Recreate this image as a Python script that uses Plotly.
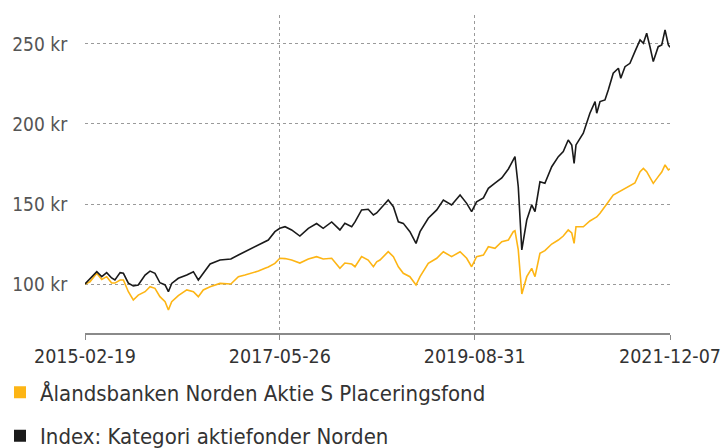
import plotly.graph_objects as go

dates = [
    "2015-02-19", "2015-03-12", "2015-04-10", "2015-05-01", "2015-05-22", "2015-06-12", "2015-06-26",
    "2015-07-18", "2015-08-01", "2015-08-22", "2015-09-12", "2015-10-03", "2015-11-01", "2015-11-22",
    "2015-12-13", "2016-01-03", "2016-01-25", "2016-02-08", "2016-02-22", "2016-03-21", "2016-04-26",
    "2016-05-24", "2016-06-14", "2016-07-05", "2016-08-03", "2016-09-14", "2016-10-30", "2016-12-01",
    "2016-12-29", "2017-01-27", "2017-02-24", "2017-03-24", "2017-04-07", "2017-05-05", "2017-05-26",
    "2017-06-17", "2017-07-15", "2017-08-19", "2017-09-24", "2017-10-29", "2017-11-26", "2018-01-01",
    "2018-02-05", "2018-02-26", "2018-03-27", "2018-04-10", "2018-05-08", "2018-06-05", "2018-06-27",
    "2018-07-11", "2018-07-25", "2018-08-29", "2018-09-20", "2018-10-11", "2018-11-01", "2018-11-29",
    "2018-12-25", "2019-01-11", "2019-02-15", "2019-03-23", "2019-04-20", "2019-05-25", "2019-06-30",
    "2019-07-28", "2019-08-18", "2019-09-08", "2019-10-07", "2019-10-28", "2019-11-25", "2019-12-24",
    "2020-01-21", "2020-02-11", "2020-02-18", "2020-03-03", "2020-03-18", "2020-04-08", "2020-04-29",
    "2020-05-13", "2020-06-03", "2020-06-24", "2020-07-23", "2020-08-20", "2020-09-10", "2020-10-01",
    "2020-10-16", "2020-10-26", "2020-11-03", "2020-12-04", "2021-01-01", "2021-01-23", "2021-01-30",
    "2021-02-13", "2021-03-06", "2021-03-20", "2021-04-10", "2021-05-02", "2021-05-12", "2021-05-30",
    "2021-06-20", "2021-07-11", "2021-08-02", "2021-08-16", "2021-08-30", "2021-09-13", "2021-09-27",
    "2021-10-18", "2021-11-02", "2021-11-16", "2021-11-30", "2021-12-07",
]

fund_values = [
    100.0, 101.4, 106.7, 102.9, 104.6, 100.6, 100.6,
    102.5, 102.5, 95.2, 90.0, 93.1, 95.2, 98.3,
    97.3, 92.1, 88.9, 83.8, 88.9, 92.8, 96.3,
    95.2, 92.1, 96.3, 98.3, 100.4, 100.0, 104.6,
    105.6, 106.7, 108.1, 109.8, 110.6, 112.9, 116.1,
    115.9, 115.0, 113.1, 115.6, 117.1, 115.6, 116.1,
    109.8, 113.1, 112.5, 110.8, 117.1, 115.0, 110.8,
    113.9, 115.0, 120.2, 117.1, 110.8, 106.7, 104.6,
    99.4, 104.6, 112.9, 116.1, 120.2, 117.1, 120.2,
    116.1, 110.8, 117.1, 118.1, 123.3, 122.3, 126.4,
    127.5, 132.7, 133.3, 121.3, 93.8, 104.6, 109.8,
    104.6, 119.2, 120.9, 125.0, 127.5, 130.0, 133.8,
    131.9, 125.4, 135.8, 135.8, 139.4, 141.3, 141.9,
    144.2, 148.8, 151.3, 155.6, 157.5, 158.1, 160.0,
    161.3, 163.1, 170.2, 172.3, 170.2, 166.9, 162.9,
    167.1, 170.0, 174.4, 171.3, 172.0,
]

index_values = [
    100.0, 103.1, 107.7, 104.6, 107.1, 103.8, 102.5,
    107.1, 106.7, 100.6, 98.8, 99.4, 105.6, 108.1,
    106.7, 100.8, 99.4, 95.2, 100.4, 103.6, 105.6,
    107.7, 102.5, 106.7, 112.5, 115.0, 115.6, 118.1,
    120.2, 122.2, 124.4, 126.3, 127.5, 132.7, 134.8,
    135.8, 133.8, 130.0, 134.8, 137.8, 134.8, 138.8,
    133.8, 137.9, 135.8, 138.8, 146.3, 146.7, 143.1,
    144.4, 146.7, 152.5, 148.3, 138.9, 137.9, 132.7,
    125.4, 132.7, 141.1, 146.3, 152.5, 149.4, 155.6,
    150.4, 145.2, 151.4, 153.8, 159.8, 163.1, 166.3,
    171.9, 177.5, 179.6, 160.8, 121.3, 140.0, 149.4,
    145.2, 163.9, 162.9, 173.3, 179.6, 182.7, 190.0,
    186.9, 175.4, 186.9, 194.2, 206.7, 214.0, 206.7,
    214.0, 215.0, 221.3, 231.7, 234.8, 228.6, 235.8,
    237.9, 245.2, 252.5, 250.4, 256.7, 248.3, 239.0,
    248.3, 249.4, 258.8, 249.4, 248.0,
]

series_names = ["Ålandsbanken Norden Aktie S Placeringsfond", "Index: Kategori aktiefonder Norden"]
series_colors = ["#FDB515", "#1A1A1A"]

tick_dates = ["2015-02-19", "2017-05-26", "2019-08-31", "2021-12-07"]
y_ticks = [100, 150, 200, 250]
y_tick_labels = ["100 kr", "150 kr", "200 kr", "250 kr"]

FONT = "DejaVu Sans Condensed"

fig = go.Figure()
for vals, name, color in zip([fund_values, index_values], series_names, series_colors):
    fig.add_trace(go.Scatter(x=dates, y=vals, mode="lines", line=dict(color=color, width=1.6),
                             showlegend=False, hoverinfo="skip"))
for i, (name, color) in enumerate(zip(series_names, series_colors)):
    fig.add_trace(go.Scatter(x=[None], y=[None], mode="markers", name=name,
                             marker=dict(symbol="square", size=12, color=color),
                             legendgroup=f"g{i}"))

fig.update_layout(
    width=724, height=448,
    margin=dict(l=85, r=54, t=15, b=115, autoexpand=False),
    paper_bgcolor="white", plot_bgcolor="white",
    font=dict(family=FONT, size=19, color="#333333"),
    showlegend=True,
    legend=dict(orientation="v", xref="container", yref="container", x=0.0, y=0.171,
                xanchor="left", yanchor="top", font=dict(family=FONT, size=22, color="#333333"),
                itemwidth=30, tracegroupgap=12, bgcolor="rgba(0,0,0,0)"),
    xaxis=dict(type="date", range=["2015-02-19", "2021-12-07"], tickmode="array",
               tickvals=tick_dates, ticktext=tick_dates, tickangle=0,
               showgrid=True, gridcolor="#9A9A9A", griddash="3px,3px", gridwidth=1,
               showline=True, linecolor="#8A8A8A", linewidth=1.5,
               ticks="outside", ticklen=5, tickcolor="#8A8A8A",
               tickfont=dict(family=FONT, size=19.5, color="#333333"), zeroline=False),
    yaxis=dict(range=[69.4, 268.1], tickmode="array", tickvals=y_ticks, ticktext=y_tick_labels,
               showgrid=True, gridcolor="#9A9A9A", griddash="3px,3px", gridwidth=1,
               showline=False, zeroline=False, ticks="outside", ticklen=13, tickcolor="rgba(0,0,0,0)",
               tickfont=dict(family=FONT, size=19, color="#555555")),
)

fig.write_html("out.html", config={"displayModeBar": False},
               post_script="document.body.style.margin='0px';")
